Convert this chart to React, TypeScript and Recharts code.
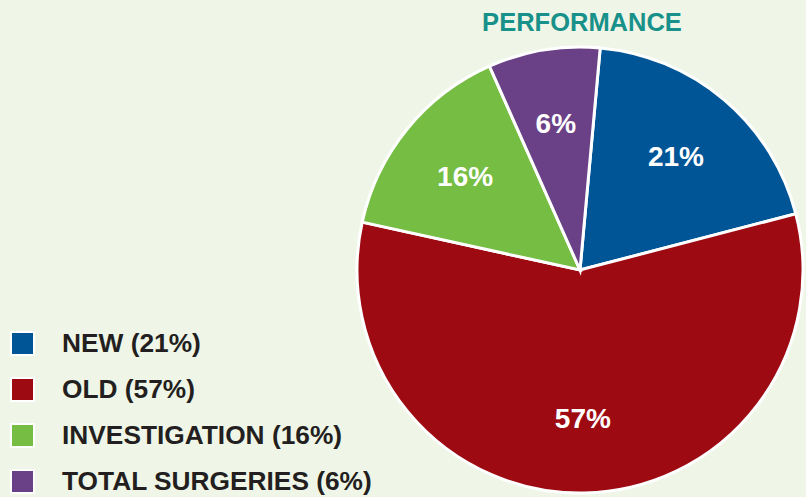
import React from 'react';
import { PieChart, Pie, Cell } from 'recharts';

const categories = ['NEW', 'OLD', 'INVESTIGATION', 'TOTAL SURGERIES'];
const sliceValues = [19.5, 57.5, 14.9, 8.1];
const percentLabels = ['21%', '57%', '16%', '6%'];
const colors = ['#005596', '#9e0a12', '#76bd43', '#6a4187'];
const title = 'PERFORMANCE';

const data = categories.map((name, i) => ({
  name,
  value: sliceValues[i],
  pct: percentLabels[i],
  color: colors[i],
}));

if (typeof document !== 'undefined') {
  document.body.style.margin = '0';
}

const FONT = '"Liberation Sans", Arial, Helvetica, sans-serif';
const RAD = Math.PI / 180;

const renderLabel = (props: any) => {
  const { cx, cy, midAngle, outerRadius, index } = props;
  const r = outerRadius * 0.665;
  const x = cx + r * Math.cos(-midAngle * RAD);
  const y = cy + r * Math.sin(-midAngle * RAD);
  return (
    <text
      x={x}
      y={y}
      fill="#ffffff"
      textAnchor="middle"
      dominantBaseline="central"
      fontFamily={FONT}
      fontWeight="bold"
      fontSize={28}
    >
      {data[index].pct}
    </text>
  );
};

const LegendBlock = () => (
  <div
    style={{
      position: 'absolute',
      left: 10,
      top: 320,
      width: 400,
      fontFamily: FONT,
    }}
  >
    {data.map((d) => (
      <div
        key={d.name}
        style={{ display: 'flex', alignItems: 'center', height: 46 }}
      >
        <div
          style={{
            width: 21,
            height: 21,
            background: d.color,
            border: '2px solid #ffffff',
            boxSizing: 'content-box',
          }}
        />
        <span
          style={{
            marginLeft: 27,
            fontSize: 26.3,
            fontWeight: 'bold',
            color: '#231f20',
            whiteSpace: 'nowrap',
          }}
        >
          {`${d.name} (${d.pct})`}
        </span>
      </div>
    ))}
  </div>
);

export default function App() {
  return (
    <div
      style={{
        position: 'relative',
        width: 806,
        height: 497,
        background: '#f0f6e7',
        overflow: 'hidden',
      }}
    >
      <PieChart width={806} height={497} margin={{ top: 0, right: 0, bottom: 0, left: 0 }}>
        <Pie
          data={data}
          dataKey="value"
          nameKey="name"
          cx={580}
          cy={270}
          outerRadius={223}
          startAngle={84.8}
          endAngle={-275.2}
          stroke="#ffffff"
          strokeWidth={3}
          label={renderLabel}
          labelLine={false}
          isAnimationActive={false}
        >
          {data.map((d) => (
            <Cell key={d.name} fill={d.color} />
          ))}
        </Pie>
      </PieChart>
      <div
        style={{
          position: 'absolute',
          left: 582,
          top: 22,
          transform: 'translate(-50%, -50%)',
          fontFamily: FONT,
          fontWeight: 'bold',
          fontSize: 25.5,
          color: '#17918a',
          whiteSpace: 'nowrap',
        }}
      >
        {title}
      </div>
      <LegendBlock />
    </div>
  );
}
